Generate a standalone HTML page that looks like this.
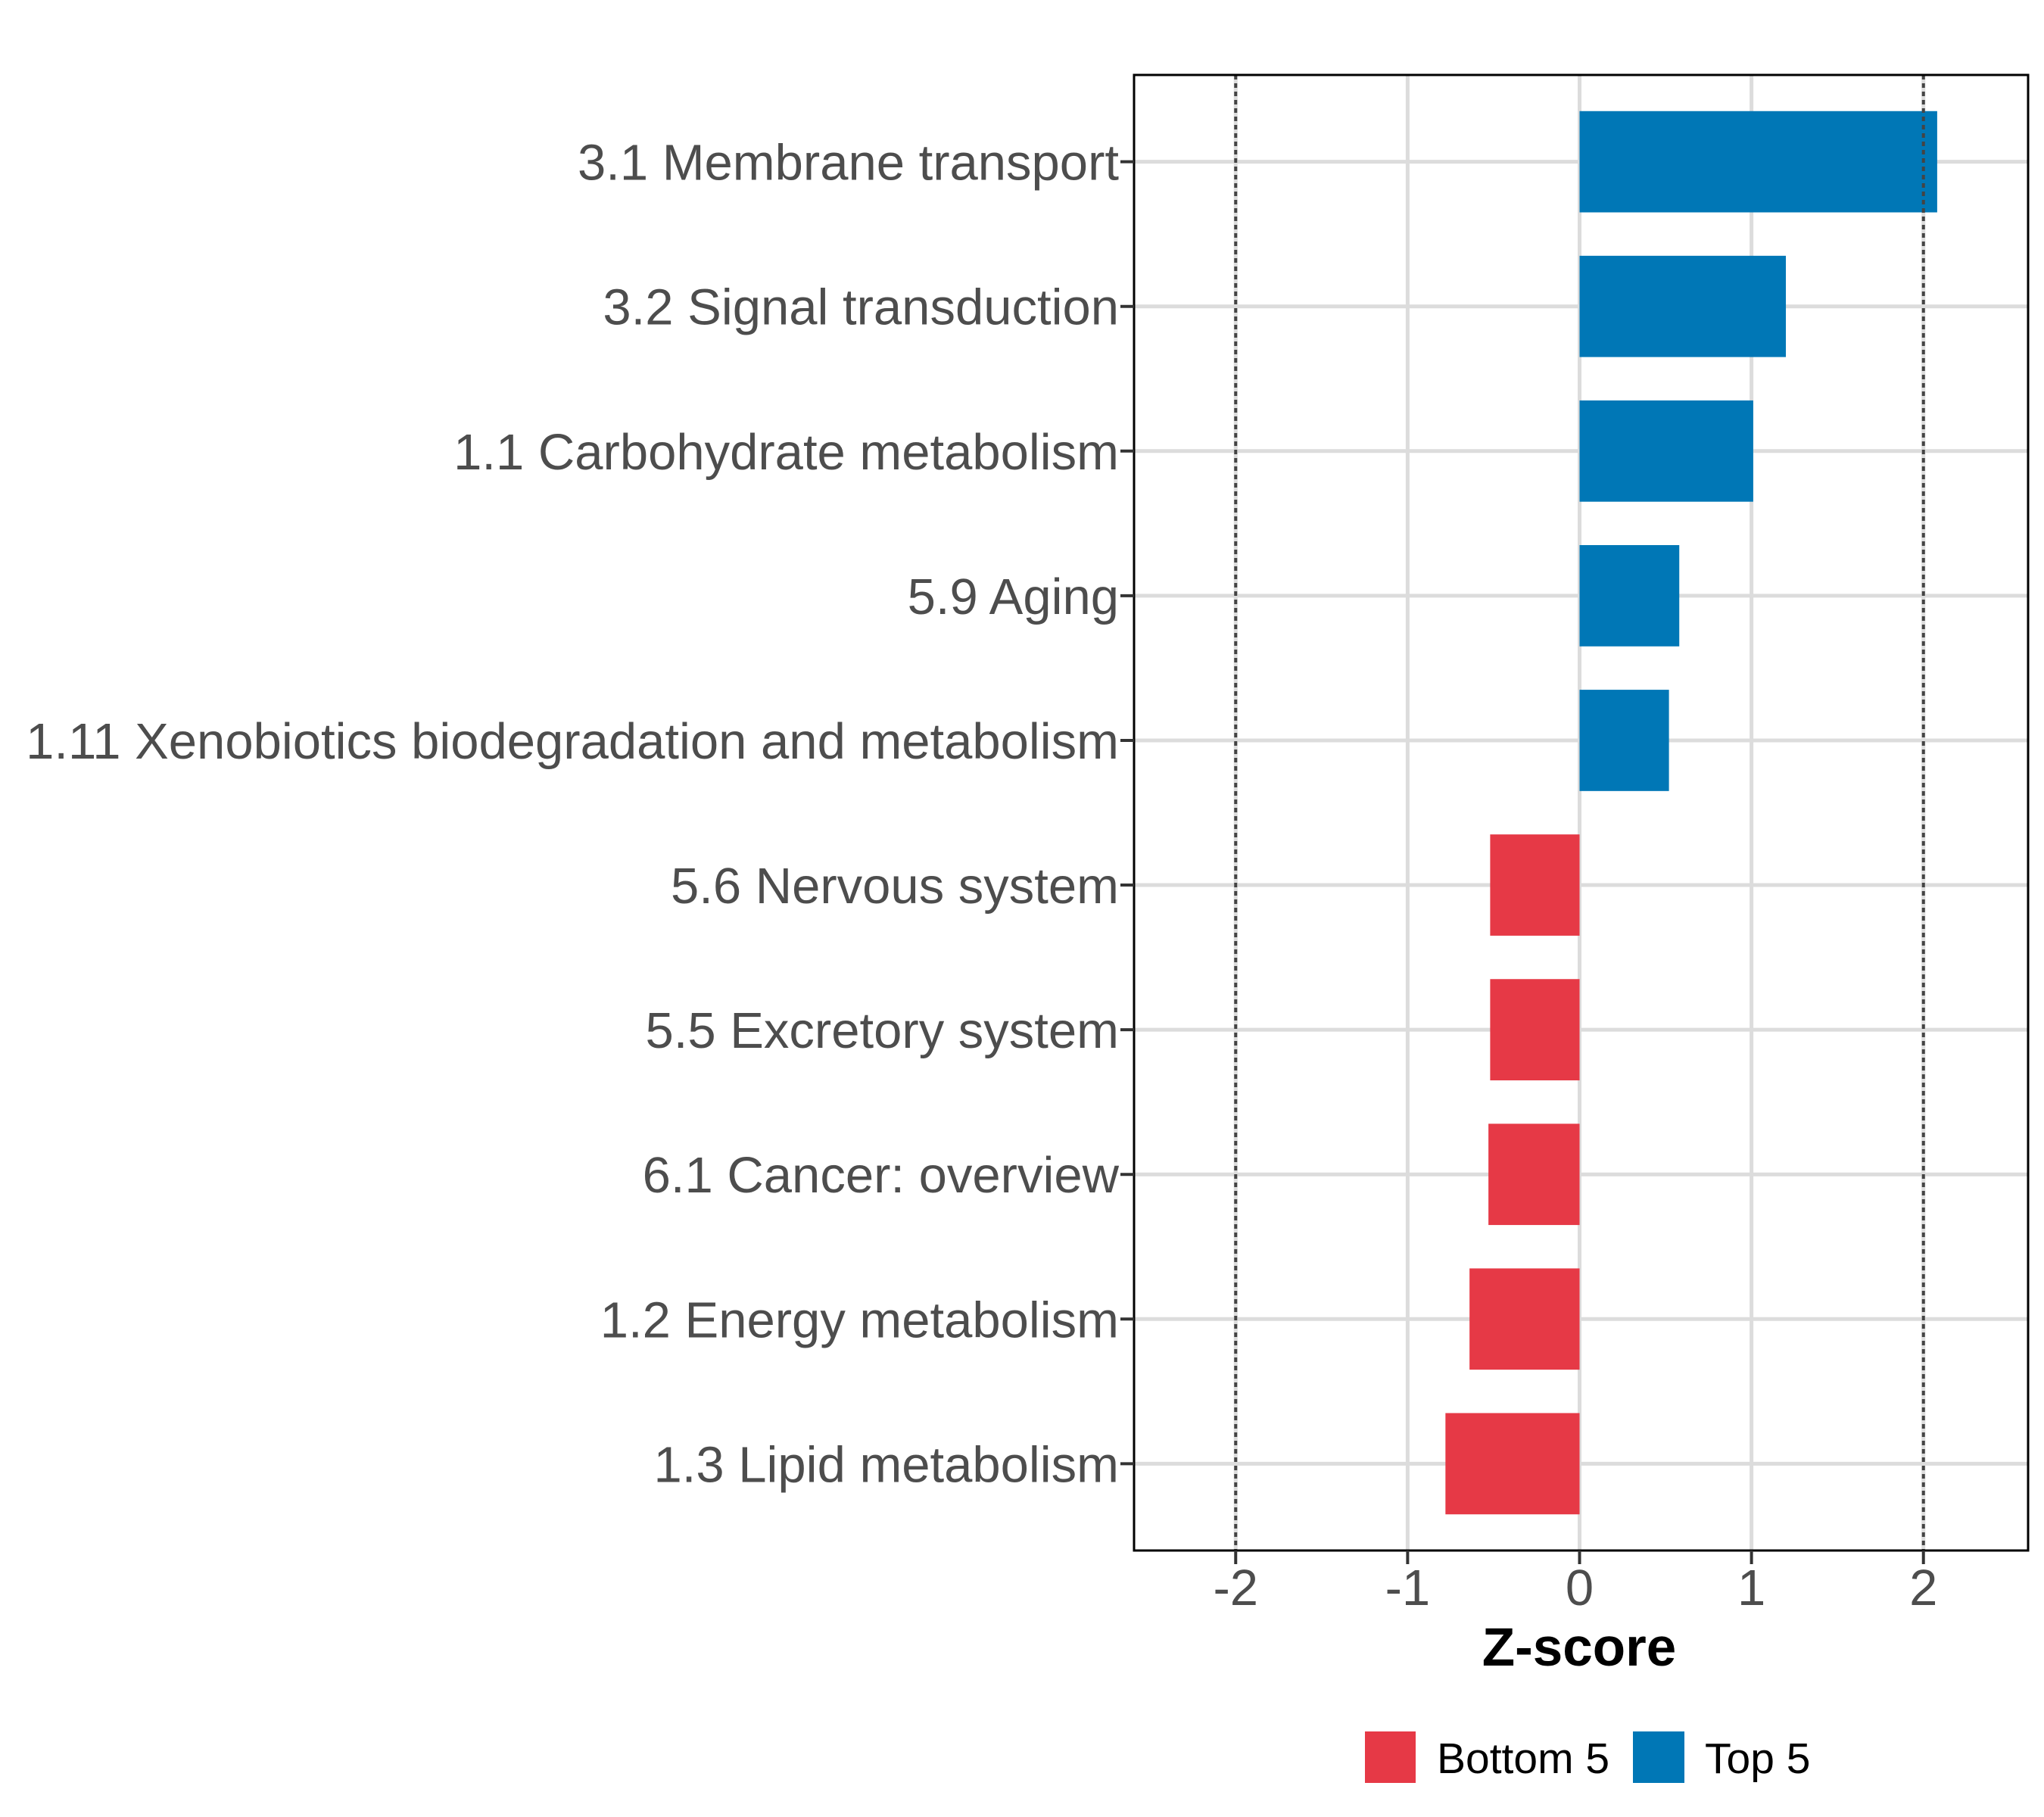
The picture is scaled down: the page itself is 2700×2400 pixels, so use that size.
<!DOCTYPE html>
<html><head><meta charset="utf-8"><style>
html,body{margin:0;padding:0;background:#fff}
svg{display:block}
</style></head><body>
<svg id="chart" width="2700" height="2400" viewBox="0 0 2700 2400" xmlns="http://www.w3.org/2000/svg" font-family="Liberation Sans, Arial, sans-serif">
<rect x="0" y="0" width="2700" height="2400" fill="#fff"/>
<g id="grid"></g>
<g id="bars"></g>
<g id="refs"></g>
<rect x="1498" y="99" width="1181" height="1949" fill="none" stroke="#000" stroke-width="3"/>
<g id="yaxis"></g>
<g id="xaxis"></g>
<text x="2086" y="2200" text-anchor="middle" font-size="71" font-weight="bold" fill="#000">Z-score</text>
<g>
  <rect x="1803" y="2287" width="67" height="68" fill="#E63946"/>
  <text x="1898" y="2342" font-size="57" fill="#000">Bottom 5</text>
  <rect x="2157" y="2287" width="68" height="68" fill="#0077B6"/>
  <text x="2252" y="2342" font-size="57" fill="#000">Top 5</text>
</g>
</svg>
<script>
const categories = ["3.1 Membrane transport","3.2 Signal transduction","1.1 Carbohydrate metabolism","5.9 Aging","1.11 Xenobiotics biodegradation and metabolism","5.6 Nervous system","5.5 Excretory system","6.1 Cancer: overview","1.2 Energy metabolism","1.3 Lipid metabolism"];
const zScores = [2.08,1.20,1.01,0.58,0.52,-0.52,-0.52,-0.53,-0.64,-0.78];
const groups = ["Top 5","Top 5","Top 5","Top 5","Top 5","Bottom 5","Bottom 5","Bottom 5","Bottom 5","Bottom 5"];
const xTicks = [-2,-1,0,1,2];
const xTickLabels = ["-2","-1","0","1","2"];
const refLines = [-2,2];

const NS="http://www.w3.org/2000/svg";
const panel={left:1498,right:2679,top:99,bottom:2048};
const xMin=-2.6,xMax=2.6;
function x(v){return panel.left+(v-xMin)/(xMax-xMin)*(panel.right-panel.left)-2;}
const step=(panel.bottom-panel.top)/(categories.length-1+1.2);
function y(i){return panel.top+0.6*step+i*step;}
const colors={"Top 5":"#0077B6","Bottom 5":"#E63946"};
function mk(tag,attrs,parent){const e=document.createElementNS(NS,tag);for(const k in attrs)e.setAttribute(k,attrs[k]);parent.appendChild(e);return e;}

const grid=document.getElementById('grid');
xTicks.forEach((t)=>{
  const l=mk('line',{x1:x(t),x2:x(t),y1:panel.top,y2:panel.bottom,stroke:'#dcdcdc','stroke-width':5},grid);
  
  
});
categories.forEach((c,i)=>{
  const l=mk('line',{x1:panel.left,x2:panel.right,y1:y(i),y2:y(i),stroke:'#dcdcdc','stroke-width':5},grid);
  
  
});

const bars=document.getElementById('bars');
const bh=step*0.7;
zScores.forEach((v,i)=>{
  const x0=Math.min(x(0),x(v)),w=Math.abs(x(v)-x(0));
  const r=mk('rect',{x:x0,y:y(i)-bh/2,width:w,height:bh,fill:colors[groups[i]]},bars);
  
  
});

const refs=document.getElementById('refs');
refLines.forEach(t=>{
  const l=mk('line',{x1:x(t),x2:x(t),y1:panel.top,y2:panel.bottom,stroke:'#444','stroke-width':4,'stroke-dasharray':'6 5'},refs);
  
  
});

const ya=document.getElementById('yaxis');
categories.forEach((c,i)=>{
  const tk=mk('line',{x1:panel.left-18,x2:panel.left,y1:y(i),y2:y(i),stroke:'#333','stroke-width':4},ya);
  
  
  const t=mk('text',{x:1478,y:y(i)+24,'text-anchor':'end','font-size':67,fill:'#4d4d4d'},ya);
  t.textContent=c;
  
  
});

const xa=document.getElementById('xaxis');
xTicks.forEach((t,i)=>{
  const tk=mk('line',{x1:x(t),x2:x(t),y1:panel.bottom,y2:panel.bottom+18,stroke:'#333','stroke-width':4},xa);
  
  
  const tx=mk('text',{x:x(t),y:2120,'text-anchor':'middle','font-size':67,fill:'#4d4d4d'},xa);
  tx.textContent=xTickLabels[i];
  
  
});
</script>
</body></html>
